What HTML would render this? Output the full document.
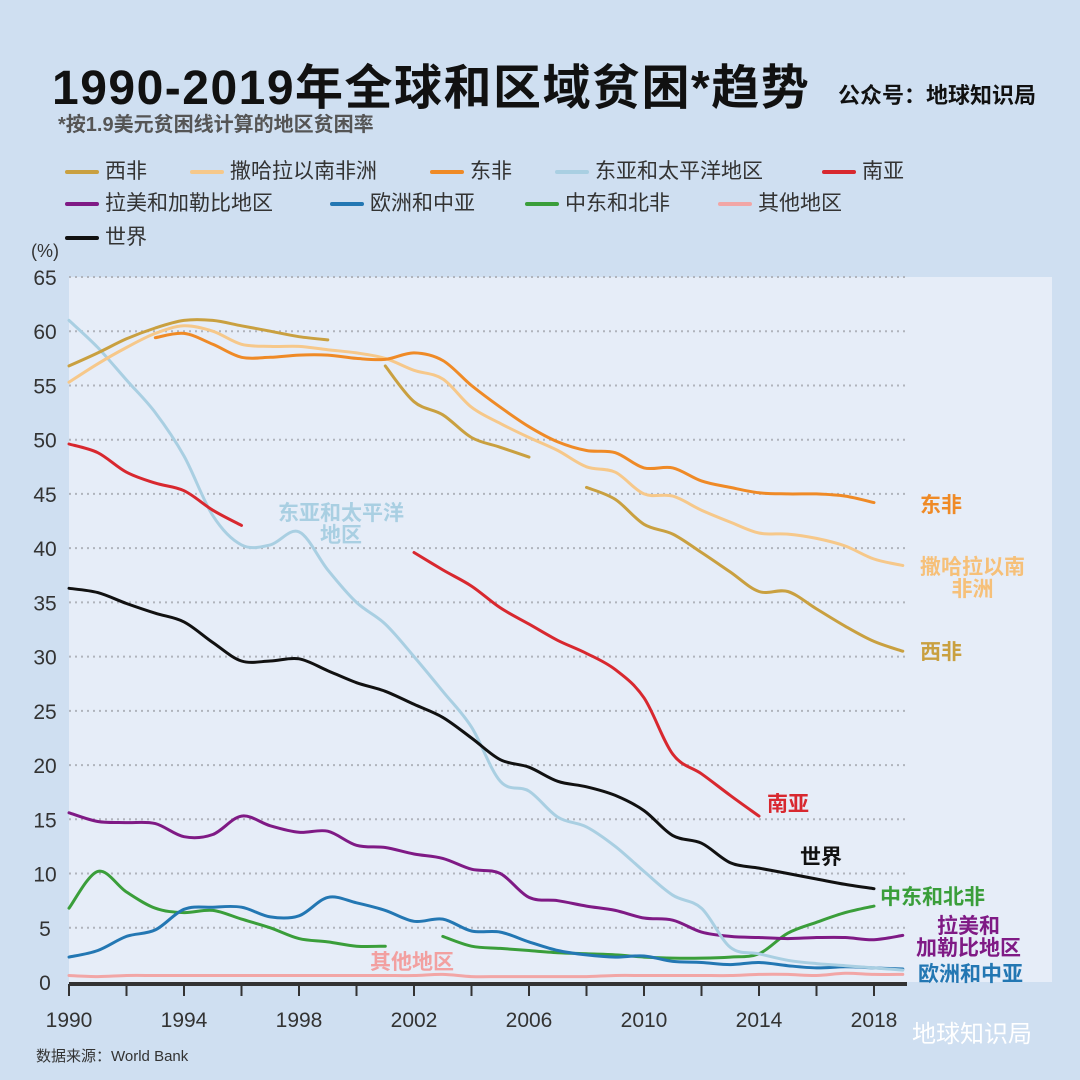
<!DOCTYPE html>
<html><head><meta charset="utf-8">
<style>
body{margin:0;width:1080px;height:1080px;background:#cfdff1;font-family:"Liberation Sans","Noto Sans CJK SC",sans-serif;overflow:hidden;position:relative}
.t{position:absolute;white-space:nowrap}
.lg{position:absolute;font-size:21px;color:#333;white-space:nowrap}
.lg i{display:inline-block;width:34px;height:4px;vertical-align:middle;margin-right:6px;border-radius:2px}
.el{position:absolute;font-size:21px;font-weight:bold;text-align:center;line-height:22px;white-space:nowrap}
</style></head><body>
<div class="t" style="left:52px;top:48px;font-size:48px;letter-spacing:1.5px;font-weight:bold;color:#111">1990-2019年全球和区域贫困*趋势</div>
<div class="t" style="left:838px;top:78px;font-size:22px;font-weight:bold;color:#111">公众号：地球知识局</div>
<div class="t" style="left:58px;top:108px;font-size:20px;color:#555;font-weight:bold">*按1.9美元贫困线计算的地区贫困率</div>

<div class="lg" style="left:65px;top:155px"><i style="background:#c9a040"></i>西非</div>
<div class="lg" style="left:190px;top:155px"><i style="background:#f6c88a"></i>撒哈拉以南非洲</div>
<div class="lg" style="left:430px;top:155px"><i style="background:#ef8a26"></i>东非</div>
<div class="lg" style="left:555px;top:155px"><i style="background:#a9cfe2"></i>东亚和太平洋地区</div>
<div class="lg" style="left:822px;top:155px"><i style="background:#d8282f"></i>南亚</div>
<div class="lg" style="left:65px;top:187px"><i style="background:#7f1a85"></i>拉美和加勒比地区</div>
<div class="lg" style="left:330px;top:187px"><i style="background:#2377b3"></i>欧洲和中亚</div>
<div class="lg" style="left:525px;top:187px"><i style="background:#3a9e3a"></i>中东和北非</div>
<div class="lg" style="left:718px;top:187px"><i style="background:#f2a6a6"></i>其他地区</div>
<div class="lg" style="left:65px;top:221px"><i style="background:#111"></i>世界</div>

<svg id="chart" width="1080" height="1080" style="position:absolute;left:0;top:0"></svg>

<div class="el" style="left:920px;top:495px;color:#ef8a26">东非</div>
<div class="el" style="left:920px;top:557px;color:#f6c079">撒哈拉以南<br>非洲</div>
<div class="el" style="left:920px;top:642px;color:#c9a040">西非</div>
<div class="el" style="left:767px;top:794px;color:#d8282f">南亚</div>
<div class="el" style="left:800px;top:847px;color:#111">世界</div>
<div class="el" style="left:880px;top:887px;color:#3a9e3a">中东和北非</div>
<div class="el" style="left:916px;top:916px;color:#7f1a85">拉美和<br>加勒比地区</div>
<div class="el" style="left:918px;top:964px;color:#2377b3">欧洲和中亚</div>
<div class="el" style="left:370px;top:952px;color:#f2a0a0">其他地区</div>
<div class="el" style="left:278px;top:503px;color:#a9cfe2">东亚和太平洋<br>地区</div>
<div class="t" style="left:36px;top:1045px;font-size:15px;color:#333">数据来源：World Bank</div>
<div class="t" style="left:912px;top:1014px;font-size:24px;color:#fff">地球知识局</div>

<script>
const years=[1990,1991,1992,1993,1994,1995,1996,1997,1998,1999,2000,2001,2002,2003,2004,2005,2006,2007,2008,2009,2010,2011,2012,2013,2014,2015,2016,2017,2018,2019];
const yTicks=[0,5,10,15,20,25,30,35,40,45,50,55,60,65];
const xTickLabels=[1990,1994,1998,2002,2006,2010,2014,2018];
const N=null;
const otherVals=[0.6,0.5,0.6,0.6,0.6,0.6,0.6,0.6,0.6,0.6,0.6,0.6,0.6,0.7,0.5,0.5,0.5,0.5,0.5,0.6,0.6,0.6,0.6,0.6,0.7,0.7,0.6,0.8,0.7,0.7];
const mena=[6.8,10.2,8.3,6.8,6.4,6.6,5.8,5.0,4.0,3.7,3.3,3.3,N,4.2,3.3,3.1,2.9,2.7,2.6,2.5,2.3,2.2,2.2,2.3,2.6,4.5,5.5,6.4,7.0,N];
const europe=[2.3,2.9,4.2,4.8,6.7,6.9,6.9,6.0,6.1,7.8,7.3,6.6,5.6,5.8,4.7,4.6,3.7,2.9,2.5,2.3,2.4,1.9,1.8,1.6,1.8,1.5,1.3,1.4,1.3,1.2];
const latam=[15.6,14.8,14.7,14.6,13.4,13.6,15.3,14.4,13.8,13.9,12.6,12.4,11.8,11.4,10.4,10.0,7.8,7.5,7.0,6.6,5.9,5.7,4.6,4.2,4.1,4.0,4.1,4.1,3.9,4.3];
const eastAsia=[61,58.5,55.5,52.5,48.5,43,40.3,40.3,41.5,38,35,33,30,26.8,23.5,18.5,17.6,15.2,14.3,12.5,10.2,8,6.8,3.2,2.6,2.0,1.7,1.5,1.3,1.1];
const southAsia=[49.6,48.8,47,46,45.3,43.5,42.1,N,N,N,N,N,39.6,38,36.5,34.5,33,31.5,30.3,28.8,26.2,21,19.2,17.2,15.3,N,N,N,N,N];
const world=[36.3,35.9,34.9,34,33.2,31.3,29.6,29.6,29.8,28.7,27.6,26.8,25.6,24.4,22.5,20.5,19.8,18.5,18,17.2,15.8,13.5,12.8,11,10.5,10,9.5,9,8.6,N];
const ssa=[55.3,57,58.5,59.8,60.5,60,58.8,58.6,58.6,58.3,58,57.5,56.4,55.6,53,51.5,50.2,49,47.5,47,45,44.8,43.5,42.4,41.4,41.3,40.9,40.2,39,38.4];
const eastAfrica=[N,N,N,59.4,59.8,58.8,57.6,57.6,57.8,57.8,57.5,57.4,58,57.3,55,53,51.2,49.8,49,48.8,47.4,47.4,46.2,45.6,45.1,45,45,44.8,44.2,N];
const westAfrica=[56.8,58,59.3,60.3,61,61,60.5,60,59.5,59.2,N,56.8,53.5,52.3,50.2,49.3,48.4,N,45.6,44.5,42.2,41.3,39.6,37.8,36,36,34.4,32.8,31.4,30.5];

const svg=document.getElementById('chart');const NS='http://www.w3.org/2000/svg';
const X0=69,XS=28.75,Y0=982,YS=10.846;
function xs(yr){return X0+(yr-1990)*XS;}
function ys(v){return Y0-v*YS;}
function mk(t,a){const e=document.createElementNS(NS,t);for(const k in a)e.setAttribute(k,a[k]);svg.appendChild(e);return e;}
const bg=mk('rect',{x:X0,y:ys(65),width:1052-X0,height:Y0-ys(65),fill:'#e6edf8'});


yTicks.forEach(v=>{
 if(v>0){const g=mk('line',{x1:X0,x2:907,y1:ys(v),y2:ys(v),stroke:'#b0b4bc','stroke-width':2,'stroke-dasharray':'2 4'});
 
 }
 const t=mk('text',{x:45,y:ys(v)+8,'font-size':21,fill:'#333','text-anchor':'middle','font-family':'Liberation Sans'});t.textContent=v;
 
 
});
const yt=mk('text',{x:45,y:ys(65)-20,'font-size':18,fill:'#333','text-anchor':'middle'});yt.textContent='(%)';


const ax=mk('line',{x1:X0,x2:907,y1:Y0+2,y2:Y0+2,stroke:'#333','stroke-width':4});


years.forEach((y,i)=>{if(y%2==0){const tk=mk('line',{x1:xs(y),x2:xs(y),y1:Y0+2,y2:Y0+14,stroke:'#333','stroke-width':2});
 
 }});
xTickLabels.forEach(y=>{const t=mk('text',{x:xs(y),y:1027,'font-size':21,fill:'#333','text-anchor':'middle'});t.textContent=y;
 
 });
function smoothPath(pts){
 let d='M'+pts[0][0].toFixed(1)+','+pts[0][1].toFixed(1);
 for(let i=0;i<pts.length-1;i++){
  const p0=pts[Math.max(0,i-1)],p1=pts[i],p2=pts[i+1],p3=pts[Math.min(pts.length-1,i+2)];
  const c1x=p1[0]+(p2[0]-p0[0])/6,c1y=p1[1]+(p2[1]-p0[1])/6;
  const c2x=p2[0]-(p3[0]-p1[0])/6,c2y=p2[1]-(p3[1]-p1[1])/6;
  d+='C'+c1x.toFixed(1)+','+c1y.toFixed(1)+' '+c2x.toFixed(1)+','+c2y.toFixed(1)+' '+p2[0].toFixed(1)+','+p2[1].toFixed(1);
 }
 return d;
}
function series(vals,color,name){
 let segs=[],cur=[];
 vals.forEach((v,i)=>{if(v===null){if(cur.length)segs.push(cur);cur=[];return;}cur.push([xs(years[i]),ys(v)]);});
 if(cur.length)segs.push(cur);
 const d=segs.filter(s=>s.length>1).map(smoothPath).join('');
 const p=mk('path',{d:d,fill:'none',stroke:color,'stroke-width':3,'stroke-linejoin':'round','stroke-linecap':'round'});
 
 
}
series(otherVals,'#f2a6a6','line-other');
series(mena,'#3a9e3a','line-mena');
series(europe,'#2377b3','line-europe');
series(latam,'#7f1a85','line-latam');
series(eastAsia,'#a9cfe2','line-east-asia');
series(ssa,'#f6c88a','line-ssa');
series(westAfrica,'#c9a040','line-west-africa');
series(eastAfrica,'#ef8a26','line-east-africa');
series(southAsia,'#d8282f','line-south-asia');
series(world,'#111111','line-world');
</script>
</body></html>
